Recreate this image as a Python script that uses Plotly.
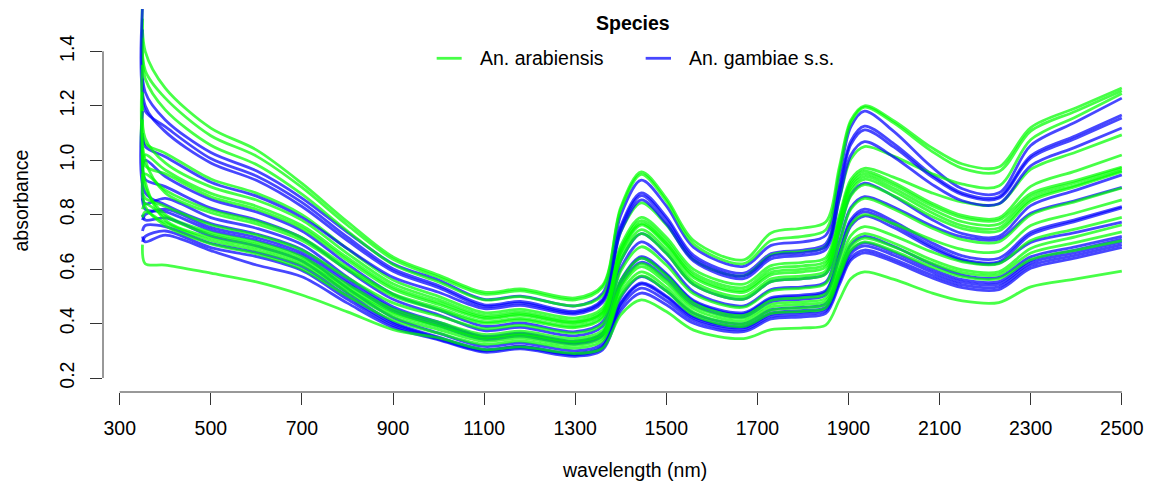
import plotly.graph_objects as go

# knot wavelengths (nm) shared by every spectrum
wavelength = [350, 356, 400, 500, 600, 700, 800, 900, 1000, 1100, 1180, 1300, 1360, 1400, 1445,
              1500, 1560, 1670, 1730, 1800, 1850, 1880, 1905, 1935, 2000, 2080, 2150, 2230,
              2300, 2400, 2500]

# An. arabiensis spectra (absorbance at the knots above)
arab_01 = [1.60, 1.40, 1.265, 1.118, 1.038, 0.915, 0.774, 0.645, 0.578, 0.515, 0.527, 0.494, 0.540, 0.827, 0.957, 0.860, 0.705, 0.634, 0.733, 0.751, 0.773, 0.976, 1.146, 1.200, 1.144, 1.049, 0.986, 0.975, 1.120, 1.193, 1.265]
arab_02 = [1.52, 1.33, 1.228, 1.090, 1.015, 0.900, 0.761, 0.636, 0.570, 0.508, 0.520, 0.487, 0.533, 0.819, 0.948, 0.850, 0.692, 0.620, 0.705, 0.720, 0.744, 0.958, 1.138, 1.195, 1.136, 1.036, 0.970, 0.958, 1.107, 1.181, 1.255]
arab_03 = [1.45, 1.30, 1.185, 1.055, 0.984, 0.875, 0.740, 0.617, 0.553, 0.487, 0.499, 0.465, 0.503, 0.737, 0.843, 0.763, 0.634, 0.575, 0.652, 0.665, 0.684, 0.858, 1.004, 1.050, 1.014, 0.953, 0.912, 0.905, 1.075, 1.160, 1.245]
arab_04 = [1.10, 1.06, 1.026, 0.931, 0.879, 0.800, 0.674, 0.560, 0.500, 0.440, 0.452, 0.420, 0.457, 0.686, 0.790, 0.717, 0.599, 0.545, 0.613, 0.625, 0.642, 0.798, 0.929, 0.970, 0.937, 0.882, 0.846, 0.839, 0.966, 1.030, 1.093]
arab_05 = [1.25, 1.08, 0.990, 0.902, 0.854, 0.780, 0.657, 0.546, 0.488, 0.430, 0.442, 0.410, 0.447, 0.675, 0.778, 0.704, 0.586, 0.532, 0.600, 0.612, 0.629, 0.786, 0.918, 0.960, 0.917, 0.845, 0.797, 0.788, 0.904, 0.961, 1.019]
arab_06 = [0.98, 1.02, 0.964, 0.878, 0.831, 0.760, 0.642, 0.534, 0.478, 0.423, 0.435, 0.405, 0.441, 0.666, 0.768, 0.694, 0.576, 0.522, 0.588, 0.600, 0.618, 0.775, 0.908, 0.950, 0.908, 0.836, 0.789, 0.780, 0.878, 0.926, 0.975]
arab_07 = [1.20, 0.98, 0.950, 0.866, 0.820, 0.750, 0.632, 0.526, 0.470, 0.418, 0.430, 0.400, 0.436, 0.661, 0.762, 0.688, 0.569, 0.515, 0.579, 0.590, 0.608, 0.765, 0.898, 0.940, 0.896, 0.823, 0.774, 0.765, 0.868, 0.919, 0.970]
arab_08 = [0.92, 0.95, 0.890, 0.817, 0.776, 0.715, 0.607, 0.509, 0.458, 0.407, 0.419, 0.390, 0.426, 0.646, 0.745, 0.672, 0.554, 0.500, 0.564, 0.575, 0.593, 0.753, 0.887, 0.930, 0.885, 0.810, 0.760, 0.751, 0.857, 0.909, 0.962]
arab_09 = [1.35, 1.00, 0.880, 0.807, 0.766, 0.705, 0.598, 0.501, 0.450, 0.401, 0.413, 0.385, 0.420, 0.633, 0.730, 0.658, 0.543, 0.490, 0.554, 0.565, 0.582, 0.738, 0.869, 0.910, 0.868, 0.796, 0.749, 0.740, 0.849, 0.904, 0.958]
arab_10 = [0.88, 0.86, 0.830, 0.763, 0.726, 0.670, 0.568, 0.476, 0.428, 0.381, 0.393, 0.365, 0.397, 0.593, 0.682, 0.615, 0.509, 0.460, 0.520, 0.530, 0.547, 0.695, 0.820, 0.860, 0.820, 0.753, 0.708, 0.700, 0.799, 0.849, 0.898]
arab_11 = [1.05, 0.90, 0.800, 0.735, 0.699, 0.645, 0.544, 0.453, 0.405, 0.360, 0.372, 0.345, 0.375, 0.557, 0.640, 0.577, 0.476, 0.430, 0.485, 0.495, 0.510, 0.648, 0.763, 0.800, 0.766, 0.710, 0.672, 0.665, 0.760, 0.807, 0.854]
arab_12 = [0.82, 0.84, 0.793, 0.727, 0.690, 0.635, 0.534, 0.443, 0.395, 0.350, 0.362, 0.335, 0.364, 0.540, 0.620, 0.560, 0.464, 0.420, 0.471, 0.480, 0.494, 0.618, 0.723, 0.756, 0.722, 0.665, 0.627, 0.620, 0.705, 0.748, 0.790]
arab_13 = [1.15, 0.92, 0.780, 0.715, 0.679, 0.625, 0.526, 0.435, 0.388, 0.345, 0.357, 0.330, 0.358, 0.531, 0.609, 0.549, 0.454, 0.410, 0.461, 0.470, 0.483, 0.600, 0.699, 0.730, 0.695, 0.636, 0.597, 0.590, 0.676, 0.719, 0.762]
arab_14 = [0.79, 0.81, 0.770, 0.705, 0.669, 0.615, 0.516, 0.425, 0.378, 0.335, 0.347, 0.320, 0.347, 0.514, 0.590, 0.533, 0.442, 0.400, 0.449, 0.458, 0.471, 0.586, 0.683, 0.714, 0.681, 0.624, 0.587, 0.580, 0.659, 0.698, 0.737]
arab_15 = [0.95, 0.83, 0.760, 0.693, 0.656, 0.600, 0.501, 0.412, 0.365, 0.324, 0.336, 0.310, 0.337, 0.501, 0.575, 0.520, 0.431, 0.390, 0.437, 0.445, 0.458, 0.573, 0.669, 0.700, 0.666, 0.610, 0.572, 0.565, 0.635, 0.670, 0.705]
arab_16 = [0.69, 0.62, 0.615, 0.585, 0.553, 0.505, 0.443, 0.378, 0.347, 0.304, 0.314, 0.290, 0.310, 0.432, 0.487, 0.444, 0.376, 0.345, 0.378, 0.384, 0.394, 0.487, 0.565, 0.590, 0.562, 0.514, 0.483, 0.477, 0.535, 0.564, 0.593]

# An. gambiae s.s. spectra
gamb_01 = [1.48, 1.25, 1.148, 1.028, 0.961, 0.861, 0.735, 0.620, 0.560, 0.489, 0.501, 0.465, 0.511, 0.798, 0.927, 0.832, 0.680, 0.610, 0.687, 0.700, 0.724, 0.940, 1.122, 1.180, 1.105, 0.979, 0.895, 0.880, 1.054, 1.141, 1.228]
gamb_02 = [1.30, 1.18, 1.123, 1.006, 0.942, 0.845, 0.717, 0.601, 0.540, 0.469, 0.481, 0.445, 0.489, 0.758, 0.880, 0.792, 0.650, 0.585, 0.657, 0.670, 0.693, 0.898, 1.070, 1.125, 1.060, 0.951, 0.879, 0.866, 1.016, 1.091, 1.166]
gamb_03 = [1.56, 1.20, 1.105, 0.990, 0.926, 0.830, 0.705, 0.592, 0.532, 0.463, 0.475, 0.440, 0.483, 0.750, 0.870, 0.782, 0.640, 0.575, 0.647, 0.660, 0.683, 0.886, 1.057, 1.111, 1.048, 0.943, 0.873, 0.860, 1.008, 1.081, 1.155]
gamb_04 = [1.10, 1.05, 1.013, 0.919, 0.868, 0.790, 0.675, 0.570, 0.515, 0.455, 0.467, 0.435, 0.477, 0.737, 0.854, 0.767, 0.629, 0.565, 0.637, 0.650, 0.671, 0.859, 1.018, 1.068, 1.011, 0.915, 0.851, 0.840, 0.979, 1.049, 1.118]
gamb_05 = [0.96, 1.00, 0.940, 0.856, 0.810, 0.740, 0.618, 0.508, 0.450, 0.390, 0.402, 0.370, 0.406, 0.629, 0.730, 0.658, 0.543, 0.490, 0.554, 0.565, 0.583, 0.741, 0.874, 0.916, 0.867, 0.785, 0.730, 0.720, 0.833, 0.890, 0.946]
gamb_06 = [1.02, 0.93, 0.903, 0.824, 0.781, 0.715, 0.596, 0.489, 0.432, 0.374, 0.386, 0.355, 0.390, 0.603, 0.700, 0.630, 0.517, 0.465, 0.525, 0.535, 0.552, 0.701, 0.826, 0.866, 0.827, 0.761, 0.718, 0.710, 0.805, 0.853, 0.900]
gamb_07 = [0.86, 0.84, 0.860, 0.789, 0.750, 0.690, 0.570, 0.462, 0.405, 0.353, 0.365, 0.335, 0.366, 0.559, 0.646, 0.584, 0.485, 0.440, 0.495, 0.505, 0.521, 0.663, 0.782, 0.820, 0.775, 0.699, 0.649, 0.640, 0.735, 0.783, 0.830]
gamb_08 = [1.18, 0.88, 0.836, 0.767, 0.729, 0.672, 0.558, 0.454, 0.400, 0.348, 0.360, 0.330, 0.361, 0.553, 0.640, 0.579, 0.480, 0.435, 0.490, 0.500, 0.516, 0.655, 0.773, 0.810, 0.764, 0.687, 0.636, 0.627, 0.726, 0.776, 0.825]
gamb_09 = [0.78, 0.80, 0.820, 0.753, 0.716, 0.660, 0.548, 0.446, 0.392, 0.342, 0.354, 0.325, 0.355, 0.541, 0.625, 0.565, 0.469, 0.425, 0.480, 0.490, 0.505, 0.643, 0.758, 0.795, 0.752, 0.679, 0.631, 0.622, 0.698, 0.735, 0.773]
gamb_10 = [0.92, 0.82, 0.811, 0.743, 0.706, 0.650, 0.530, 0.422, 0.365, 0.316, 0.328, 0.300, 0.327, 0.496, 0.572, 0.520, 0.438, 0.400, 0.451, 0.460, 0.473, 0.590, 0.689, 0.720, 0.683, 0.620, 0.578, 0.570, 0.645, 0.683, 0.720]
gamb_11 = [0.80, 0.78, 0.788, 0.722, 0.685, 0.630, 0.512, 0.406, 0.350, 0.305, 0.317, 0.290, 0.316, 0.476, 0.549, 0.501, 0.425, 0.390, 0.439, 0.448, 0.460, 0.572, 0.666, 0.696, 0.661, 0.601, 0.561, 0.554, 0.632, 0.671, 0.710]
gamb_12 = [0.74, 0.76, 0.756, 0.695, 0.661, 0.610, 0.500, 0.400, 0.347, 0.303, 0.315, 0.288, 0.314, 0.473, 0.545, 0.497, 0.420, 0.385, 0.434, 0.443, 0.455, 0.564, 0.656, 0.685, 0.650, 0.591, 0.552, 0.545, 0.623, 0.661, 0.700]
gamb_13 = [0.70, 0.72, 0.740, 0.679, 0.646, 0.595, 0.489, 0.393, 0.343, 0.300, 0.312, 0.285, 0.310, 0.461, 0.530, 0.484, 0.411, 0.378, 0.426, 0.435, 0.447, 0.553, 0.642, 0.670, 0.636, 0.580, 0.542, 0.535, 0.613, 0.651, 0.690]
gamb_14 = [0.72, 0.70, 0.725, 0.668, 0.615, 0.572, 0.475, 0.386, 0.340, 0.295, 0.307, 0.280, 0.303, 0.447, 0.512, 0.469, 0.401, 0.370, 0.417, 0.425, 0.437, 0.543, 0.632, 0.660, 0.626, 0.570, 0.532, 0.525, 0.603, 0.641, 0.680]

arabiensis = [arab_01, arab_02, arab_03, arab_04, arab_05, arab_06, arab_07, arab_08,
              arab_09, arab_10, arab_11, arab_12, arab_13, arab_14, arab_15, arab_16]
gambiae = [gamb_01, gamb_02, gamb_03, gamb_04, gamb_05, gamb_06, gamb_07,
           gamb_08, gamb_09, gamb_10, gamb_11, gamb_12, gamb_13, gamb_14]

x_ticks = [300, 500, 700, 900, 1100, 1300, 1500, 1700, 1900, 2100, 2300, 2500]
y_ticks = [0.2, 0.4, 0.6, 0.8, 1.0, 1.2, 1.4]

green = 'rgba(0,255,0,0.72)'
blue = 'rgba(0,0,255,0.72)'
font = 'Liberation Sans, Arial, Helvetica, sans-serif'
fs = 19.5

fig = go.Figure()

# interleave the two species, like the original drawing order
for i in range(max(len(arabiensis), len(gambiae))):
    if i < len(arabiensis):
        fig.add_trace(go.Scatter(x=wavelength, y=arabiensis[i], mode='lines',
                                 line=dict(color=green, width=2.8, shape='spline', smoothing=0.9),
                                 showlegend=False, hoverinfo='skip'))
    if i < len(gambiae):
        fig.add_trace(go.Scatter(x=wavelength, y=gambiae[i], mode='lines',
                                 line=dict(color=blue, width=2.8, shape='spline', smoothing=0.9),
                                 showlegend=False, hoverinfo='skip'))

fig.update_layout(
    width=1149, height=488,
    margin=dict(l=103, r=0, t=9, b=96),
    paper_bgcolor='white', plot_bgcolor='white',
    font=dict(family=font, size=fs, color='black'),
    xaxis=dict(range=[263.3, 2559.7], tickvals=x_ticks, ticks='outside', ticklen=12,
               tickcolor='#333', showgrid=False, zeroline=False, showline=False,
               automargin=False, ticklabelstandoff=7, tickfont=dict(size=fs)),
    yaxis=dict(range=[0.1486, 1.5554], tickvals=y_ticks, ticktext=['0.2', '0.4', '0.6', '0.8', '1.0', '1.2', '1.4'],
               ticks='outside', ticklen=12, tickcolor='#333', tickangle=-90,
               showgrid=False, zeroline=False, showline=False, automargin=False,
               ticklabelstandoff=8, tickfont=dict(size=fs)),
    showlegend=False,
)

# R style axis lines, only from first to last tick
fig.add_shape(type='line', xref='x', yref='paper', x0=x_ticks[0], x1=x_ticks[-1], y0=0, y1=0,
              line=dict(color='#333', width=1))
fig.add_shape(type='line', xref='paper', yref='y', x0=0, x1=0, y0=y_ticks[0], y1=y_ticks[-1],
              line=dict(color='#333', width=1))

# axis titles
fig.add_annotation(text='wavelength (nm)', xref='paper', yref='paper', x=0.5086, y=-0.2037,
                   showarrow=False, font=dict(size=fs), xanchor='center', yanchor='middle')
fig.add_annotation(text='absorbance', xref='paper', yref='paper', x=-0.0793, y=0.5, textangle=-90,
                   showarrow=False, font=dict(size=fs), xanchor='center', yanchor='middle')

# legend drawn by hand, as in the base R legend
fig.add_annotation(text='<b>Species</b>', xref='paper', yref='paper', x=0.5064, y=0.963,
                   showarrow=False, font=dict(size=fs), xanchor='center', yanchor='middle')
fig.add_shape(type='line', xref='paper', yref='paper', x0=0.319, x1=0.3429, y0=0.8713, y1=0.8713,
              line=dict(color=green, width=2.8))
fig.add_annotation(text='An. arabiensis', xref='paper', yref='paper', x=0.3585, y=0.8713,
                   showarrow=False, font=dict(size=fs), xanchor='left', yanchor='middle')
fig.add_shape(type='line', xref='paper', yref='paper', x0=0.5188, x1=0.543, y0=0.8713, y1=0.8713,
              line=dict(color=blue, width=2.8))
fig.add_annotation(text='An. gambiae s.s.', xref='paper', yref='paper', x=0.5583, y=0.8713,
                   showarrow=False, font=dict(size=fs), xanchor='left', yanchor='middle')

# the page body has an 8px default margin; drop it so the figure sits at the corner
fig.write_html('out.html', config={'displayModeBar': False},
               post_script="document.body.style.margin='0';")
